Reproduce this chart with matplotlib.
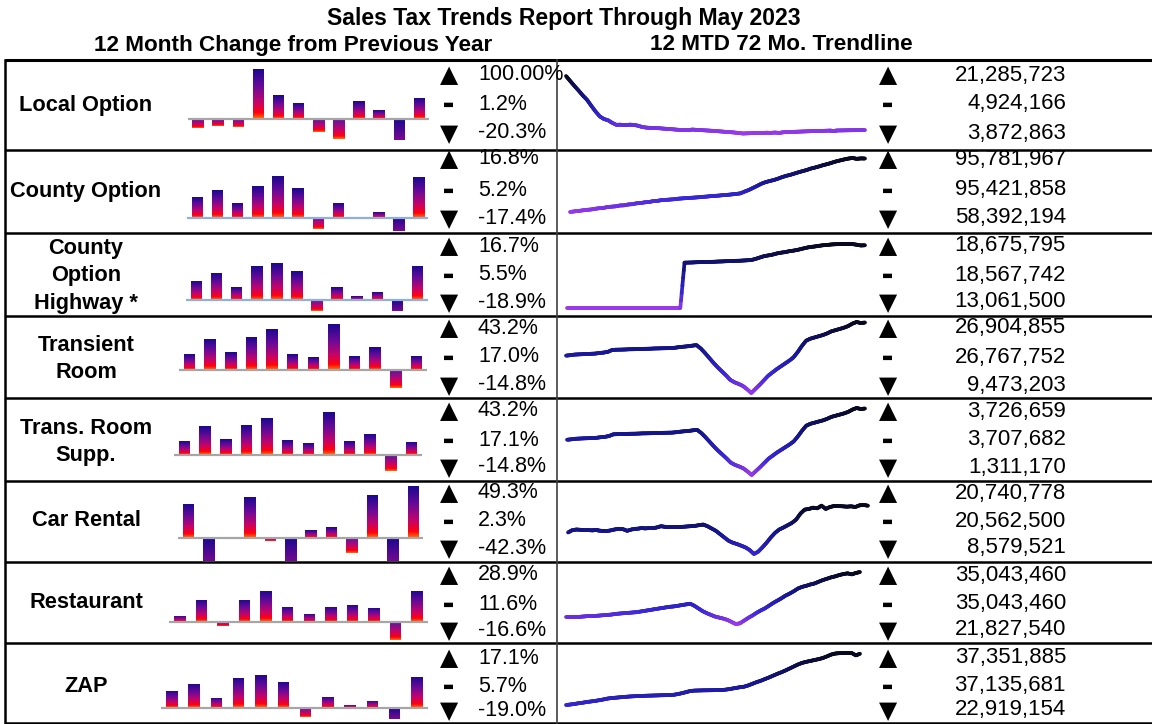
import numpy as np
import matplotlib
matplotlib.use("Agg")
import matplotlib.pyplot as plt
from matplotlib.collections import LineCollection
from matplotlib.colors import LinearSegmentedColormap

plt.rcParams['font.family'] = ['Liberation Sans', 'DejaVu Sans']

W, H = 1152, 724

# ---- data ----
categories = ["Local Option", "County Option", "County\nOption\nHighway *", "Transient\nRoom",
              "Trans. Room\nSupp.", "Car Rental", "Restaurant", "ZAP"]

# 12 month change from previous year (%)
bars_local = [-3.5, -2.7, -3.1, 20.0, 9.6, 6.4, -5.1, -8.0, 7.2, 3.6, -8.4, 8.4]
bars_county = [8.3, 11.1, 5.9, 12.7, 16.7, 11.9, -4.5, 5.9, 0.3, 2.3, -5.3, 16.3]
bars_highway = [7.5, 10.7, 5.1, 13.5, 14.7, 11.5, -4.4, 5.1, 1.5, 3.1, -4.4, 13.5]
bars_transient = [6.4, 12.4, 7.2, 13.2, 16.4, 6.4, 5.2, 18.4, 5.6, 9.2, -7.1, 5.6]
bars_supp = [5.5, 11.5, 6.3, 11.9, 14.7, 5.9, 4.7, 17.1, 5.5, 8.3, -6.4, 5.1]
bars_car = [13.6, -10.0, 0.4, 16.4, -1.2, -10.0, 3.2, 4.4, -6.0, 17.2, -10.0, 20.8]
bars_rest = [2.5, 8.9, -1.5, 8.9, 12.5, 6.1, 3.3, 6.1, 6.9, 5.7, -7.1, 12.5]
bars_zap = [6.9, 9.7, 4.1, 12.1, 13.3, 10.5, -3.3, 4.5, 1.3, 2.9, -4.1, 12.5]
bar_vals = [bars_local, bars_county, bars_highway, bars_transient,
            bars_supp, bars_car, bars_rest, bars_zap]

pct_hi = ['100.00%', '16.8%', '16.7%', '43.2%', '43.2%', '49.3%', '28.9%', '17.1%']
pct_cur = ['1.2%', '5.2%', '5.5%', '17.0%', '17.1%', '2.3%', '11.6%', '5.7%']
pct_lo = ['-20.3%', '-17.4%', '-18.9%', '-14.8%', '-14.8%', '-42.3%', '-16.6%', '-19.0%']

amt_hi = [21285723, 95781967, 18675795, 26904855, 3726659, 20740778, 35043460, 37351885]
amt_cur = [4924166, 95421858, 18567742, 26767752, 3707682, 20562500, 35043460, 37135681]
amt_lo = [3872863, 58392194, 13061500, 9473203, 1311170, 8579521, 21827540, 22919154]

# 12 MTD totals over 72 months ($ millions)
trend_local = [21.29, 19.77, 18.27, 16.87, 15.37, 14.07, 12.27, 10.57, 9.07, 8.27,
               7.87, 7.07, 6.47, 6.57, 6.57, 6.57, 6.47, 6.27, 5.87, 5.67,
               5.57, 5.57, 5.47, 5.37, 5.27, 5.17, 5.07, 4.97, 4.87, 4.87,
               5.07, 4.97, 4.90, 4.82, 4.75, 4.67, 4.57, 4.47, 4.37, 4.27,
               4.17, 4.02, 3.87, 3.92, 3.97, 4.02, 4.07, 4.07, 4.12, 4.12,
               4.17, 4.17, 4.27, 4.32, 4.37, 4.42, 4.47, 4.52, 4.57, 4.62,
               4.67, 4.67, 4.72, 4.77, 4.77, 4.80, 4.82, 4.85, 4.87, 4.88,
               4.90, 4.92]
trend_county = [58.39, 58.8, 59.1, 59.5, 59.9, 60.1, 60.6, 61.0, 61.2, 61.8,
                62.1, 62.3, 62.9, 63.0, 63.6, 63.8, 64.4, 64.6, 65.1, 65.3,
                65.9, 66.1, 66.6, 66.8, 67.0, 67.2, 67.6, 67.8, 68.0, 68.2,
                68.4, 68.6, 68.9, 69.1, 69.4, 69.6, 69.8, 70.1, 70.3, 70.6,
                70.9, 71.3, 72.5, 73.6, 75.0, 76.4, 77.9, 79.0, 79.8, 80.5,
                81.4, 82.5, 83.4, 84.1, 85.0, 85.9, 86.7, 87.5, 88.5, 89.2,
                90.0, 90.9, 91.6, 92.5, 93.4, 94.1, 94.8, 95.4, 95.78, 95.2,
                95.5, 95.42]
trend_highway = [13.06, 13.06, 13.06, 13.06, 13.06, 13.06, 13.06, 13.06, 13.06, 13.06,
                 13.06, 13.06, 13.06, 13.06, 13.06, 13.06, 13.06, 13.06, 13.06, 13.06,
                 13.06, 13.06, 13.06, 13.06, 13.06, 13.06, 13.06, 13.06, 17.04, 17.05,
                 17.06, 17.08, 17.09, 17.10, 17.11, 17.12, 17.14, 17.15, 17.17, 17.18,
                 17.20, 17.21, 17.23, 17.25, 17.28, 17.38, 17.50, 17.62, 17.68, 17.75,
                 17.85, 17.92, 17.97, 18.05, 18.10, 18.17, 18.26, 18.35, 18.42, 18.46,
                 18.52, 18.57, 18.60, 18.64, 18.66, 18.67, 18.68, 18.68, 18.67, 18.62,
                 18.55, 18.57]
trend_transient = [18.64, 18.75, 18.90, 18.95, 19.00, 19.05, 19.10, 19.15, 19.30, 19.40,
                   19.60, 20.05, 20.10, 20.12, 20.15, 20.20, 20.22, 20.25, 20.30, 20.32,
                   20.35, 20.40, 20.42, 20.45, 20.48, 20.50, 20.60, 20.75, 20.85, 20.95,
                   21.10, 21.22, 20.40, 19.30, 18.10, 16.90, 15.80, 14.80, 13.80, 12.70,
                   12.10, 11.70, 11.20, 10.40, 9.47, 10.50, 11.50, 12.60, 13.70, 14.50,
                   15.30, 16.00, 16.70, 17.40, 18.20, 19.50, 21.00, 22.30, 22.80, 23.10,
                   23.40, 23.70, 24.10, 24.60, 24.90, 25.20, 25.50, 25.90, 26.50, 26.90,
                   26.65, 26.77]
trend_supp = [2.582, 2.597, 2.618, 2.625, 2.632, 2.638, 2.645, 2.652, 2.673, 2.687,
              2.715, 2.777, 2.784, 2.787, 2.791, 2.798, 2.800, 2.805, 2.812, 2.814,
              2.818, 2.825, 2.828, 2.832, 2.836, 2.839, 2.853, 2.874, 2.888, 2.902,
              2.922, 2.939, 2.825, 2.673, 2.507, 2.341, 2.188, 2.050, 1.911, 1.759,
              1.676, 1.620, 1.551, 1.440, 1.311, 1.454, 1.593, 1.745, 1.897, 2.008,
              2.119, 2.216, 2.313, 2.410, 2.521, 2.701, 2.909, 3.089, 3.158, 3.199,
              3.241, 3.282, 3.338, 3.407, 3.449, 3.490, 3.532, 3.587, 3.670, 3.727,
              3.691, 3.708]
trend_car = [13.92, 14.49, 14.66, 14.58, 14.49, 14.49, 14.42, 14.42, 14.33, 14.25,
             14.42, 14.66, 14.83, 14.75, 14.33, 14.66, 14.83, 14.91, 14.91, 14.99,
             14.99, 15.16, 15.48, 15.32, 15.24, 15.24, 15.24, 15.32, 15.40, 15.48,
             15.56, 15.73, 15.89, 15.48, 14.91, 14.33, 13.51, 12.69, 11.87, 11.38,
             11.05, 10.64, 10.22, 9.57, 8.58, 9.15, 10.22, 11.38, 12.69, 13.83,
             14.66, 15.16, 15.73, 16.30, 17.13, 18.60, 19.59, 19.76, 20.08, 19.92,
             20.57, 19.76, 20.25, 20.49, 20.49, 20.41, 20.33, 20.41, 20.25, 20.66,
             20.74, 20.56]
trend_rest = [23.55, 23.55, 23.63, 23.63, 23.72, 23.80, 23.80, 23.89, 23.97, 24.06,
              24.14, 24.23, 24.40, 24.49, 24.58, 24.66, 24.75, 24.83, 25.00, 25.17,
              25.34, 25.52, 25.69, 25.86, 26.03, 26.20, 26.29, 26.46, 26.64, 26.81,
              26.98, 26.46, 25.78, 25.09, 24.58, 24.14, 23.72, 23.46, 23.20, 22.86,
              22.34, 21.83, 22.00, 22.69, 23.37, 23.97, 24.66, 25.26, 25.78, 26.46,
              27.15, 27.75, 28.35, 29.03, 29.55, 30.15, 30.84, 31.26, 31.53, 31.87,
              32.12, 32.56, 32.98, 33.32, 33.67, 33.93, 34.27, 34.52, 34.70, 34.44,
              34.79, 35.04]
trend_zap = [22.92, 23.05, 23.20, 23.40, 23.55, 23.75, 23.90, 24.05, 24.25, 24.45,
             24.70, 24.85, 24.95, 25.05, 25.15, 25.25, 25.32, 25.38, 25.43, 25.48,
             25.52, 25.55, 25.58, 25.62, 25.65, 25.70, 25.75, 25.95, 26.20, 26.50,
             26.80, 26.92, 26.95, 26.98, 27.00, 27.02, 27.05, 27.08, 27.11, 27.25,
             27.45, 27.65, 27.85, 28.00, 28.35, 28.80, 29.25, 29.63, 30.10, 30.55,
             31.05, 31.55, 32.00, 32.50, 33.05, 33.60, 34.15, 34.60, 34.90, 35.15,
             35.40, 35.65, 35.95, 36.40, 36.90, 37.20, 37.30, 37.33, 37.35, 37.34,
             36.70, 37.14]
trends = [trend_local, trend_county, trend_highway, trend_transient,
          trend_supp, trend_car, trend_rest, trend_zap]

# ---- layout (pixels) ----
row_y = [60, 150, 233, 316, 398, 481, 562, 643, 723]
stat_y = [(75, 104, 133), (159, 190, 218), (246, 275, 302), (328, 357, 385),
          (411, 440, 467), (493, 521, 548), (575, 604, 630), (658, 686, 710)]
label_y = [105, 191, 276, 359, 442, 521, 603, 686]
# baseline start, baseline end, first bar centre, last bar centre, baseline y
bar_box = [(187.7, 429.3, 198, 419.5, 119), (186.7, 428.3, 197.3, 419.2, 217.7),
           (186, 427.7, 196.5, 417.5, 299.7), (179.3, 426.7, 189.5, 416.5, 370),
           (174, 421.7, 184.5, 411.5, 454.7), (178, 423, 188.5, 413.5, 538),
           (169.3, 428.3, 180, 417, 622.3), (161, 428.3, 171.8, 417, 708.3)]
base_col = ['#a6a6a6', '#8fb0d8', '#8fb0d8', '#a6a6a6', '#a6a6a6', '#a6a6a6', '#a6a6a6', '#a6a6a6']
dark_neg = [[10], [10], [10], [], [], [1, 5, 10], [], [10]]
BAR_PX = 2.5  # px per %
# trend line: y px of max and min, x px of first/last point
line_px = [(76, 133.5), (158, 212), (244, 308), (322, 393),
           (408, 475), (505, 554), (572, 624), (653, 705)]
line_x0 = [566, 570, 567, 566, 567, 568, 566, 566]
line_x1 = [865, 865, 865, 865, 865, 868, 860, 860]
cfloor = [0, 0, 0, 0, 0, 0.3, 0, 0.3]

pos_cm = LinearSegmentedColormap.from_list('pos', [(0, '#1c0890'), (0.35, '#6a0a98'), (0.65, '#c0046e'),
                                                   (0.88, '#ff0010'), (1.0, '#ff7000')])
neg_cm = LinearSegmentedColormap.from_list('neg', [(0, '#5a18a0'), (0.5, '#c0046e'),
                                                   (0.85, '#ff0010'), (1.0, '#ff7000')])
dark_cm = LinearSegmentedColormap.from_list('dark', ['#1c0890', '#7a0a90'])
line_cm = LinearSegmentedColormap.from_list('line', [(0, '#9a3ae8'), (0.25, '#3a28d8'),
                                                     (0.6, '#161690'), (1.0, '#08081e')])

fig = plt.figure(figsize=(W / 100, H / 100), dpi=100)


def px_axes(x0, y0, x1, y1):
    return fig.add_axes([x0 / W, 1 - y1 / H, (x1 - x0) / W, (y1 - y0) / H])


bg = fig.add_axes([0, 0, 1, 1])
bg.set_xlim(0, W)
bg.set_ylim(H, 0)
bg.axis('off')

# titles
bg.text(564, 18, "Sales Tax Trends Report Through May 2023", ha='center', va='center',
        fontsize=16.6, fontweight='bold')
bg.text(293, 45, "12 Month Change from Previous Year", ha='center', va='center',
        fontsize=16.2, fontweight='bold')
bg.text(781, 45, "12 MTD 72 Mo. Trendline", ha='center', va='center',
        fontsize=16.2, fontweight='bold')

# table lines
for k, y in enumerate(row_y):
    bg.plot([5, W], [y, y], color='black', lw=2.2 if k == 0 else 1.8, solid_capstyle='butt')
bg.plot([5, 5], [row_y[0], row_y[-1]], color='black', lw=1.8)
bg.plot([557, 557], [row_y[0], row_y[-1]], color='#404040', lw=1.2)

for r in range(8):
    y1, y2, y3 = stat_y[r]
    bg.text(86, label_y[r], categories[r], ha='center', va='center', fontsize=15.7,
            fontweight='bold', linespacing=1.42)
    for x in (449, 888):
        bg.text(x, y1, '▲', ha='center', va='center', fontsize=17, family='DejaVu Sans')
        bg.text(x, y2, '▬', ha='center', va='center', fontsize=8.5, family='DejaVu Sans')
        bg.text(x, y3 + 1, '▼', ha='center', va='center', fontsize=17, family='DejaVu Sans')
    bg.text(478, y1, pct_hi[r], ha='left', va='center', fontsize=15.5)
    bg.text(478, y2, pct_cur[r], ha='left', va='center', fontsize=15.5)
    bg.text(478, y3, pct_lo[r], ha='left', va='center', fontsize=15.5)
    bg.text(1066, y1, f"{amt_hi[r]:,}", ha='right', va='center', fontsize=16)
    bg.text(1066, y2, f"{amt_cur[r]:,}", ha='right', va='center', fontsize=16)
    bg.text(1066, y3, f"{amt_lo[r]:,}", ha='right', va='center', fontsize=16)

    # 12 month bars with gradient fill
    x0, x1, c0, c1, by = bar_box[r]
    top, bot = row_y[r] + 2, row_y[r + 1] - 1
    ax = px_axes(x0, top, x1, bot)
    ax.axis('off')
    sp = (c1 - c0) / 11
    w = 11.5 / sp
    vals = bar_vals[r]
    rects = ax.bar(np.arange(12), vals, width=w, color='none', edgecolor='none')
    for i, (rect, v) in enumerate(zip(rects, vals)):
        if v >= 0:
            cm = pos_cm
        elif i in dark_neg[r]:
            cm = dark_cm
        else:
            cm = neg_cm
        grad = cm(np.linspace(0, 1, 64))[:, None, :3]
        im = ax.imshow(grad, extent=(i - w / 2, i + w / 2, min(0, v), max(0, v)),
                       aspect='auto', origin='upper', interpolation='bilinear', zorder=2)
        im.set_clip_path(rect.get_path(), rect.get_transform())
    ax.axhline(0, color=base_col[r], lw=1.6, zorder=3)
    ax.set_xlim((x0 - c0) / sp, (x1 - c0) / sp)
    ax.set_ylim(-(bot - by) / BAR_PX, (by - top) / BAR_PX)

    # 72 month trend line
    tv = np.array(trends[r])
    top, bot = row_y[r] + 1, row_y[r + 1] - 1
    lx0, lx1 = 558, 880
    la = px_axes(lx0, top, lx1, bot)
    la.axis('off')
    vmin, vmax = tv.min(), tv.max()
    ymax_px, ymin_px = line_px[r]
    kk = (vmax - vmin) / (ymin_px - ymax_px)
    la.set_ylim(vmin - (bot - ymin_px) * kk, vmax + (ymax_px - top) * kk)
    lsp = (line_x1[r] - line_x0[r]) / 71
    la.set_xlim((lx0 - line_x0[r]) / lsp, (lx1 - line_x0[r]) / lsp)
    t = np.arange(72)
    tf = np.linspace(0, 71, 71 * 6 + 1)
    vf = np.interp(tf, t, tv)
    pts = np.column_stack([tf, vf]).reshape(-1, 1, 2)
    segs = np.concatenate([pts[:-1], pts[1:]], axis=1)
    mid = (vf[:-1] + vf[1:]) / 2
    frac = cfloor[r] + (1 - cfloor[r]) * (mid - vmin) / (vmax - vmin)
    lc = LineCollection(segs, colors=line_cm(frac), linewidths=2.7, capstyle='round')
    la.add_collection(lc)

fig.savefig('out.png', dpi=100)
